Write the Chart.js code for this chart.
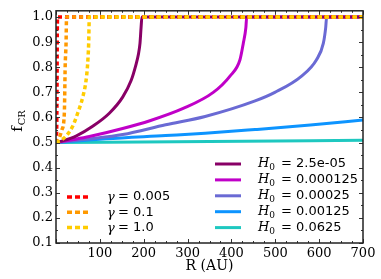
<!DOCTYPE html>
<html>
<head>
<meta charset="utf-8">
<script src="https://cdn.jsdelivr.net/npm/chart.js@4"></script>
<style>
html, body { margin: 0; padding: 0; background: #fff; }
</style>
</head>
<body>
<canvas id="fcrChart" width="381" height="279"></canvas>
<script>
// gamma runs (dotted)
const gammaLabels = ['0.005', '0.1', '1.0'];
const gammaColors = ['#ff0000', '#ff9900', '#ffcc00'];
const gammaR = [
        [0, 1.5, 2.3, 2.8, 3.5, 700],
        [0, 6, 13.7, 19, 21, 23, 24, 700],
        [0, 10, 22.8, 38, 49.4, 60.8, 68.4, 72, 74.5, 76, 700],
];
const gammaF = [
        [0.5, 0.55, 0.7, 0.9, 1.0, 1.0],
        [0.5, 0.513, 0.552, 0.617, 0.81, 0.9, 1.0, 1.0],
        [0.5, 0.508, 0.526, 0.565, 0.617, 0.68, 0.746, 0.81, 0.895, 1.0, 1.0],
];

// H0 runs (solid)
const h0Labels = ['2.5e-05', '0.000125', '0.00025', '0.00125', '0.0625'];
const h0Colors = ['#880066', '#c000c8', '#6a6ad4', '#0d94ff', '#1ec8c0'];
const h0R = [
        [0, 15, 45.6, 83.6, 121.6, 152, 171, 182.4, 187.7, 191.5, 194, 196, 700],
        [0, 40, 76, 152, 214, 290, 358.6, 396.7, 419.5, 427, 433, 434.7, 700],
        [0, 80, 152, 250, 340, 454, 499, 560, 594, 609.5, 615, 617, 700],
        [0, 114, 250, 340, 454, 580, 700],
        [0, 350, 700],
];
const h0F = [
        [0.5, 0.507, 0.526, 0.565, 0.617, 0.681, 0.746, 0.811, 0.85, 0.895, 0.959, 1.0, 1.0],
        [0.5, 0.512, 0.524, 0.556, 0.587, 0.636, 0.70, 0.765, 0.83, 0.895, 0.959, 1.0, 1.0],
        [0.5, 0.515, 0.532, 0.571, 0.604, 0.666, 0.70, 0.765, 0.83, 0.895, 0.959, 1.0, 1.0],
        [0.5, 0.515, 0.528, 0.537, 0.552, 0.57, 0.59],
        [0.5, 0.504, 0.509],
];

const xTicks = [100, 200, 300, 400, 500, 600, 700];
const yTicks = [0.1, 0.2, 0.3, 0.4, 0.5, 0.6, 0.7, 0.8, 0.9, 1.0];

const toPoints = (xs, ys) => xs.map((x, i) => ({x: x, y: ys[i]}));

const datasets = [];
// dotted ones first so they sit on top; yellow above orange above red
[2, 1, 0].forEach(i => {
        datasets.push({
                label: 'gamma ' + gammaLabels[i],
                data: toPoints(gammaR[i], gammaF[i]),
                borderColor: gammaColors[i],
                borderWidth: 3.5,
                borderDash: [4, 3],
                pointRadius: 0,
                fill: false,
                cubicInterpolationMode: 'monotone',
        });
});
h0Labels.forEach((lab, i) => {
        datasets.push({
                label: 'H0 ' + lab,
                data: toPoints(h0R[i], h0F[i]),
                borderColor: h0Colors[i],
                borderWidth: 3,
                pointRadius: 0,
                fill: false,
                cubicInterpolationMode: 'monotone',
        });
});

const serif = "'DejaVu Serif', serif";
const sans = "'DejaVu Sans', sans-serif";

// frame, inward ticks, axis titles and the two legends
const decor = {
        id: 'decor',
        afterDraw(chart) {
                const c = chart.ctx;
                const a = chart.chartArea;
                const xs = chart.scales.x, ys = chart.scales.y;
                c.save();
                c.strokeStyle = '#333';
                c.lineWidth = 1;
                c.beginPath();
                for (let v = 0; v <= 700; v += 25) {
                        const px = Math.round(xs.getPixelForValue(v)) + 0.5;
                        const len = v % 100 === 0 ? 4 : 2;
                        c.moveTo(px, a.bottom); c.lineTo(px, a.bottom - len);
                        c.moveTo(px, a.top); c.lineTo(px, a.top + len);
                }
                for (let k = 2; k <= 20; k++) {
                        const v = k * 0.05;
                        const py = Math.round(ys.getPixelForValue(v)) + 0.5;
                        const len = k % 2 === 0 ? 4 : 2;
                        c.moveTo(a.left, py); c.lineTo(a.left + len, py);
                        c.moveTo(a.right, py); c.lineTo(a.right - len, py);
                }
                c.stroke();
                c.lineWidth = 1.5;
                c.strokeStyle = '#222';
                c.strokeRect(a.left, a.top, a.right - a.left, a.bottom - a.top);

                // x title
                c.fillStyle = '#000';
                c.font = '14px ' + serif;
                c.textAlign = 'center';
                c.textBaseline = 'middle';
                c.fillText('R (AU)', (a.left + a.right) / 2, 266);

                // y title
                c.save();
                c.translate(17, 121);
                c.rotate(-Math.PI / 2);
                c.textAlign = 'left';
                c.textBaseline = 'alphabetic';
                c.font = '15px ' + serif;
                const wf = c.measureText('f').width;
                c.font = '10px ' + serif;
                const wc = c.measureText('CR').width;
                const x0 = -(wf + wc + 1) / 2;
                c.font = '15px ' + serif;
                c.fillText('f', x0, 5);
                c.font = '10px ' + serif;
                c.fillText('CR', x0 + wf + 1, 8);
                c.restore();

                // H0 legend
                c.textAlign = 'left';
                c.textBaseline = 'middle';
                h0Labels.forEach((lab, i) => {
                        const y = 164 + i * 15.9;
                        c.strokeStyle = h0Colors[i];
                        c.lineWidth = 3;
                        c.setLineDash([]);
                        c.beginPath();
                        c.moveTo(215, y); c.lineTo(241, y);
                        c.stroke();
                        c.fillStyle = '#000';
                        c.font = 'italic 13px ' + serif;
                        c.fillText('H', 258, y);
                        const wh = c.measureText('H').width;
                        c.font = '9px ' + serif;
                        c.fillText('0', 258 + wh, y + 4);
                        c.font = '13px ' + sans;
                        c.fillText('= ' + lab, 281, y);
                });

                // gamma legend
                gammaLabels.forEach((lab, i) => {
                        const y = 197 + i * 15.3;
                        c.strokeStyle = gammaColors[i];
                        c.lineWidth = 3.5;
                        c.setLineDash([5, 3]);
                        c.beginPath();
                        c.moveTo(67, y); c.lineTo(88, y);
                        c.stroke();
                        c.setLineDash([]);
                        c.fillStyle = '#000';
                        c.font = 'italic 13px ' + serif;
                        c.fillText('\u03b3', 107, y + 1);
                        c.font = '13px ' + sans;
                        c.fillText('= ' + lab, 118, y);
                });
                c.restore();
        },
};

const config = {
        type: 'line',
        data: { datasets: datasets },
        options: {
                responsive: false,
                animation: false,
                devicePixelRatio: 1,
                layout: { padding: { left: 0, right: 18, top: 5, bottom: 0 } },
                plugins: {
                        legend: { display: false },
                        tooltip: { enabled: false },
                },
                scales: {
                        x: {
                                type: 'linear',
                                min: 0,
                                max: 700,
                                afterFit: (s) => { s.height = 36; },
                                afterBuildTicks: (s) => { s.ticks = xTicks.map(v => ({value: v})); },
                                grid: { display: false, drawTicks: false },
                                border: { display: false },
                                ticks: {
                                        autoSkip: false,
                                        maxRotation: 0,
                                        padding: 3,
                                        color: '#000',
                                        font: { family: serif, size: 13 },
                                        callback: (v) => String(v),
                                },
                        },
                        y: {
                                type: 'linear',
                                min: 0.1,
                                max: 1.025,
                                afterFit: (s) => { s.width = 56; },
                                afterBuildTicks: (s) => { s.ticks = yTicks.map(v => ({value: v})); },
                                grid: { display: false, drawTicks: false },
                                border: { display: false },
                                ticks: {
                                        autoSkip: false,
                                        padding: 3,
                                        color: '#000',
                                        font: { family: serif, size: 13 },
                                        callback: (v) => Number(v).toFixed(1),
                                },
                        },
                },
        },
        plugins: [decor],
};

const fcrChart = new Chart(document.getElementById('fcrChart'), config);
</script>
</body>
</html>
